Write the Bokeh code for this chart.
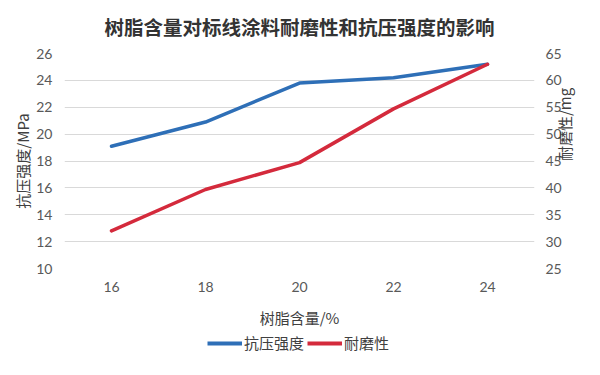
import math
from bokeh.plotting import figure
from bokeh.layouts import column
from bokeh.models import (Range1d, FactorRange, LinearAxis, FixedTicker, Legend,
                          LegendItem)
from bokeh.embed import file_html
from bokeh.resources import INLINE

categories = ["16", "18", "20", "22", "24"]
strength = [19.1, 20.9, 23.8, 24.2, 25.2]   # 抗压强度 / MPa (left axis)
wear = [32.0, 39.7, 44.7, 54.7, 63.0]       # 耐磨性 / mg (right axis)
left_ticks = [10, 12, 14, 16, 18, 20, 22, 24, 26]
right_ticks = [25, 30, 35, 40, 45, 50, 55, 60, 65]
series_names = ["抗压强度", "耐磨性"]

BLUE = "#2E6FB7"
RED = "#D42A3C"
GRID = "#D9D9D9"
TXT = "#404040"
CJK = "Noto Sans CJK SC"

xr = FactorRange(*categories, range_padding=0)
p = figure(frame_width=470, frame_height=215,
           x_range=xr,
           y_range=Range1d(left_ticks[0], left_ticks[-1]),
           output_backend="svg", toolbar_location=None,
           min_border_left=64, min_border_right=62,
           min_border_top=53, min_border_bottom=62)
p.extra_y_ranges = {"wear": Range1d(right_ticks[0], right_ticks[-1])}

p.title.text = "树脂含量对标线涂料耐磨性和抗压强度的影响"
p.title.align = "center"
p.title.vertical_align = "top"
p.title.text_font = CJK
p.title.text_font_size = "19.5px"
p.title.text_font_style = "bold"
p.title.text_color = "#333333"
p.title.standoff = 21

p.outline_line_color = None
p.xgrid.grid_line_color = None
p.ygrid.grid_line_color = GRID
p.ygrid.ticker = FixedTicker(ticks=left_ticks)

r1 = p.line(x=categories, y=strength, line_width=3.5, line_color=BLUE,
            line_cap="round", line_join="round")
r2 = p.line(x=categories, y=wear, line_width=3.5, line_color=RED,
            line_cap="round", line_join="round", y_range_name="wear")

rax = LinearAxis(y_range_name="wear", ticker=FixedTicker(ticks=right_ticks))
p.add_layout(rax, "right")
p.yaxis[0].ticker = FixedTicker(ticks=left_ticks)

for ax in [p.xaxis[0], p.yaxis[0], rax]:
    ax.axis_line_color = None
    ax.major_tick_line_color = None
    ax.minor_tick_line_color = None
    ax.major_tick_out = 0
    ax.major_tick_in = 0
    ax.minor_tick_out = 0
    ax.major_label_text_font = "Lato"
    ax.major_label_text_font_size = "14px"
    ax.major_label_text_color = "#595959"
    ax.axis_label_text_font = CJK
    ax.axis_label_text_font_size = "15px"
    ax.axis_label_text_font_style = "normal"
    ax.axis_label_text_color = TXT

p.yaxis[0].axis_label = "抗压强度/MPa"
p.yaxis[0].major_label_standoff = 12
p.yaxis[0].axis_label_standoff = 0
rax.axis_label = "耐磨性/mg"
rax.major_label_standoff = 11
rax.axis_label_standoff = 0
rax.axis_label_orientation = math.pi / 2
p.xaxis[0].axis_label = "树脂含量/%"
p.xaxis[0].major_label_standoff = 13
p.xaxis[0].axis_label_standoff = 12

# legend row: a strip whose frame is aligned with the plot frame, so the
# legend is not clipped. The series are drawn there outside its y range
# (invisible) only to supply the legend glyphs.
lf = figure(width=596, height=28, x_range=xr, y_range=Range1d(0, 1),
            x_axis_type=None, y_axis_type=None, output_backend="svg",
            toolbar_location=None, min_border=0)
lf.outline_line_color = None
d1 = lf.line(x=categories, y=strength, line_width=4, line_color=BLUE)
d2 = lf.line(x=categories, y=wear, line_width=4, line_color=RED)
legend = Legend(items=[LegendItem(label=series_names[0], renderers=[d1]),
                       LegendItem(label=series_names[1], renderers=[d2])],
                orientation="horizontal", location=(143, 5),
                border_line_color=None, background_fill_alpha=0,
                label_text_font=CJK, label_text_font_size="15px",
                label_text_color=TXT, glyph_width=35, glyph_height=20,
                label_height=20, label_standoff=2,
                spacing=3, padding=0, margin=0)
lf.add_layout(legend, "center")

open("out.html", "w").write(file_html(column(p, lf), INLINE))
